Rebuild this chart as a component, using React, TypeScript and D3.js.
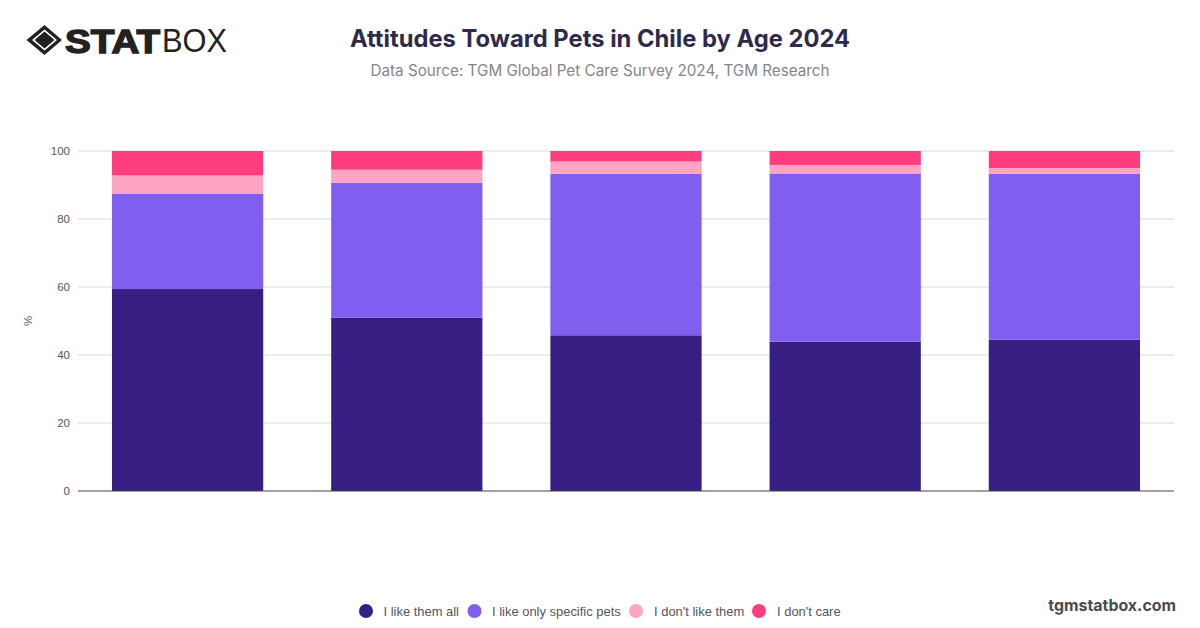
import React from "react";
import * as d3 from "d3";

const groups = ["A", "B", "C", "D", "E"];
const seriesNames = ["I like them all", "I like only specific pets", "I don't like them", "I don't care"];
const likeAll = [59.4, 51.0, 45.8, 43.9, 44.5];
const likeSpecific = [28.1, 39.7, 47.5, 49.5, 48.8];
const dislike = [5.3, 3.8, 3.6, 2.5, 1.7];
const dontCare = [7.2, 5.5, 3.1, 4.1, 5.0];
const colors = ["#371e83", "#7f5ef0", "#ffa3c2", "#fe3d7f"];
const yTicks = [0, 20, 40, 60, 80, 100];

const W = 1200, H = 628;
const x = d3.scaleBand<string>().domain(groups).range([78, 1174]).paddingInner(0.31).paddingOuter(0.155);
const y = d3.scaleLinear().domain([0, 100]).range([491, 151]);
const rows = groups.map((g, i) => ({ g, s0: likeAll[i], s1: likeSpecific[i], s2: dislike[i], s3: dontCare[i] }));
const stacked = d3.stack<any>().keys(["s0", "s1", "s2", "s3"])(rows);
const legendX = [366, 474.5, 636, 759];
const legendTextX = [383.5, 492, 654, 777];
const FONT = "'Liberation Sans', Arial, sans-serif";
const HEAD = "Inter, 'Liberation Sans', sans-serif";

export default function App() {
  return (
    <svg width={W} height={H} viewBox={`0 0 ${W} ${H}`} style={{ position: "absolute", left: 0, top: 0, background: "#fff" }}>
      {/* logo */}
      <g fill="#222">
        <path fillRule="evenodd" d="M44.5 25 L62 40 L44.5 55 L26.5 40 Z M44.5 29.5 L32 40 L44.5 50.5 L57 40 Z" />
        <path d="M44.5 31.5 L54.5 40 L44.5 48.5 L34.5 40 Z" />
      </g>
      <text x={65} y={52.5} fontFamily={FONT} fontWeight={700} fontSize={33} textLength={95} lengthAdjust="spacingAndGlyphs" fill="#222" stroke="#222" strokeWidth={1.4}>STAT</text>
      <text x={162} y={52} fontFamily={FONT} fontWeight={400} fontSize={33} textLength={65} lengthAdjust="spacingAndGlyphs" fill="#222">BOX</text>

      <text x={600} y={47} textAnchor="middle" fontFamily={HEAD} fontWeight={700} fontSize={23.75} fill="#2f2a4a">Attitudes Toward Pets in Chile by Age 2024</text>
      <text x={600} y={76} textAnchor="middle" fontFamily={HEAD} fontSize={15.25} fill="#85858c">Data Source: TGM Global Pet Care Survey 2024, TGM Research</text>

      {yTicks.filter(t => t > 0).map(t => (
        <line key={t} x1={78} x2={1174} y1={y(t)} y2={y(t)} stroke="#d8d7dc" strokeWidth={1} />
      ))}
      {yTicks.map(t => (
        <text key={t} x={70} y={y(t) + 4} textAnchor="end" fontFamily={FONT} fontSize={11.5} fill="#555">{t}</text>
      ))}
      <text transform="translate(32,321) rotate(-90)" textAnchor="middle" fontFamily={FONT} fontSize={11.5} fill="#555">%</text>

      {stacked.map((s, si) => (
        <g key={si} fill={colors[si]}>
          {s.map((d: any) => (
            <rect key={d.data.g} x={x(d.data.g)} width={x.bandwidth()} y={y(d[1])} height={y(d[0]) - y(d[1])} />
          ))}
        </g>
      ))}
      <line x1={78} x2={1174} y1={491} y2={491} stroke="#44424f" strokeWidth={1.2} />

      {seriesNames.map((n, i) => (
        <g key={n}>
          <circle cx={legendX[i]} cy={611} r={7} fill={colors[i]} />
          <text x={legendTextX[i]} y={615.5} fontFamily={FONT} fontSize={12.95} fill="#55555c">{n}</text>
        </g>
      ))}
      <text x={1176} y={611} textAnchor="end" fontFamily={HEAD} fontWeight={700} fontSize={15.9} fill="#4a4a50">tgmstatbox.com</text>
    </svg>
  );
}
